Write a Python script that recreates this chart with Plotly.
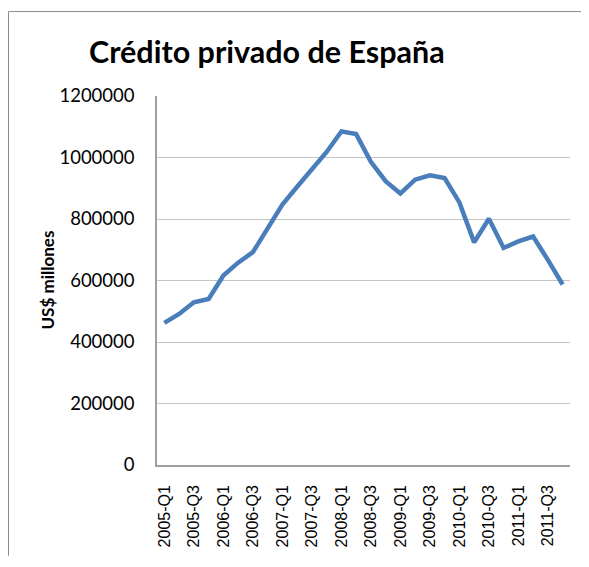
import plotly.graph_objects as go

quarters = [f"{y}-Q{q}" for y in range(2005, 2012) for q in range(1, 5)]
credito = [
    462000, 491000, 529000, 540000, 616000, 658000, 692000, 769000,
    847000, 905000, 960000, 1018000, 1085000, 1076000, 986000, 923000,
    883000, 928000, 942000, 933000, 854000, 724000, 801000, 706000,
    727000, 743000, 667000, 587000,
]
tick_labels = quarters[::2]
y_ticks = [0, 200000, 400000, 600000, 800000, 1000000, 1200000]

OFF = 8  # page body margin
W, H = 589 - OFF, 567 - 2 * OFF
# screen coordinates of the plot area
SL, SR, ST, SB = 157, 570, 96, 474
L, R, T, B = SL - OFF, SR - OFF, ST - OFF, SB - OFF
pw, ph = R - L, B - T

def px_x(sx):
    return (sx - OFF - L) / pw

def px_y(sy):
    return (B - (sy - OFF)) / ph

fig = go.Figure()
fig.add_trace(go.Scatter(
    x=quarters, y=credito, mode="lines",
    line=dict(color="#4A7EBB", width=4.5),
    hoverinfo="x+y", showlegend=False,
))

frame = dict(color="#8C8C8C", width=1)

fig.update_layout(
    width=W, height=H,
    margin=dict(l=L, r=W - R, t=T, b=H - B, pad=0),
    paper_bgcolor="white", plot_bgcolor="white",
    showlegend=False,
    xaxis=dict(
        type="category", categoryorder="array", categoryarray=quarters,
        range=[-0.5, len(quarters) - 0.5],
        tickmode="array", tickvals=tick_labels, ticktext=tick_labels,
        tickangle=-90,
        tickfont=dict(family="Liberation Sans, Arial, sans-serif", size=16, color="#000"),
        ticks="outside", ticklen=12, tickcolor="rgba(0,0,0,0)",
        showgrid=False, zeroline=False,
        showline=True, linecolor="#A0A0A0", linewidth=1.5,
        fixedrange=True,
    ),
    yaxis=dict(
        range=[0, 1200000],
        tickmode="array", tickvals=y_ticks, ticktext=[str(v) for v in y_ticks],
        tickfont=dict(family="Lato, Carlito, sans-serif", size=18.5, color="#000"),
        ticks="outside", ticklen=17, tickcolor="rgba(0,0,0,0)",
        showgrid=True, gridcolor="#C4C4C4", gridwidth=1.3,
        zeroline=False,
        showline=True, linecolor="#A0A0A0", linewidth=1.5,
        fixedrange=True,
    ),
    annotations=[
        dict(
            text="<b>Crédito privado de España</b>",
            xref="paper", yref="paper",
            x=px_x(266.5), y=px_y(50),
            xanchor="center", yanchor="middle", showarrow=False,
            font=dict(family="Lato, Carlito, sans-serif", size=30.5, color="#000"),
        ),
        dict(
            text="<b>US$ millones</b>",
            xref="paper", yref="paper",
            x=px_x(47), y=0.5, textangle=-90,
            xanchor="center", yanchor="middle", showarrow=False,
            font=dict(family="Lato, Carlito, sans-serif", size=17, color="#000"),
        ),
    ],
    shapes=[
        dict(type="line", xref="paper", yref="paper",
             x0=px_x(8.5), x1=px_x(589), y0=px_y(9.5), y1=px_y(9.5),
             line=frame, layer="below"),
        dict(type="line", xref="paper", yref="paper",
             x0=px_x(8.5), x1=px_x(8.5), y0=px_y(9.5), y1=px_y(567),
             line=frame, layer="below"),
    ],
)

fig.write_html("out.html")
